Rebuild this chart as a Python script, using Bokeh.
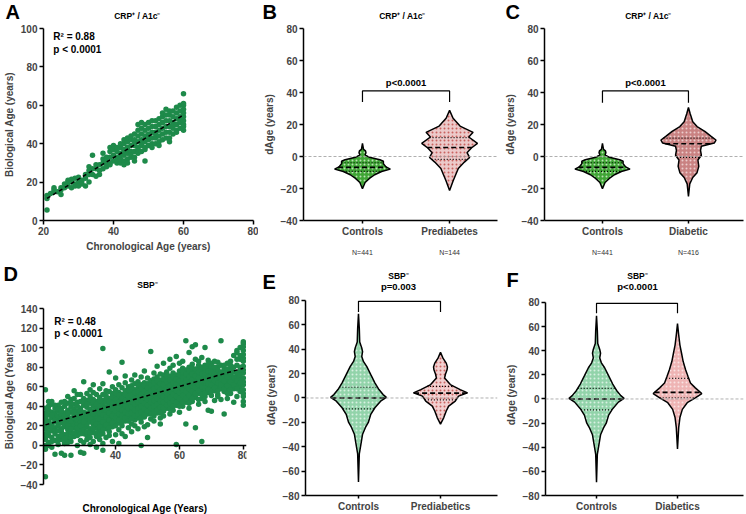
import numpy as np
from bokeh.plotting import figure
from bokeh.models import Label, Span, FixedTicker, LinearAxis, Range1d
from bokeh.layouts import row, column
from bokeh.embed import file_html
from bokeh.resources import INLINE

FONT = "Liberation Sans"
GREEN = "#1e8a4a"

# ---------------- Panel A data: CRP+ / A1c- scatter ----------------
a_ages = [21, 22, 23, 24, 25, 26, 27, 28, 29, 30, 31, 32, 33, 34, 35, 36, 37, 38, 39, 40,
          41, 42, 43, 44, 45, 46, 47, 48, 49, 50, 51, 52, 53, 54, 55, 56, 57, 58, 59, 60]
a_bio = [
    [13, 5.5, 11.5], [14], [15, 17, 16], [15], [13.5, 16, 17], [17, 19], [18, 21, 20],
    [17, 20, 21.5], [19, 22, 18], [20, 22.5, 18], [21, 19], [22, 18, 24], [20, 24, 26, 28],
    [24, 27, 34], [23, 27, 29], [26, 29, 24], [27, 30, 35, 32], [28, 31, 33, 30],
    [30, 33, 36, 38, 29], [31, 34, 37, 39], [30, 33, 36, 38, 31.5], [30, 32, 35, 38, 40, 34],
    [31, 34, 37, 40, 42, 29, 36], [32, 35, 38, 41, 43, 30, 37], [33, 36, 39, 42, 44, 34],
    [33, 36, 39, 42, 45, 31, 41], [35, 38, 41, 44, 47, 37, 50], [36, 39, 42, 45, 48, 40, 51],
    [31, 38, 41, 44, 47, 50, 37], [39, 42, 45, 48, 51, 43], [40, 43, 46, 49, 52, 38],
    [40, 43, 46, 49, 52, 45], [41, 44, 47, 50, 53, 39], [42, 45, 48, 51, 54, 56],
    [43, 46, 49, 52, 55, 58], [43, 46, 49, 52, 55, 57, 41], [45, 48, 51, 54, 57, 50],
    [47, 50, 53, 56, 59, 46], [48, 51, 54, 57, 60, 52], [47, 50, 52, 54, 56, 58, 60, 61, 66, 49],
]
a_fit = [1.115, -11.92]      # slope, intercept
a_fit_range = [21, 60]

# ---------------- Panel D data: SBP- scatter ----------------
d_ages = list(range(18, 81))
d_bio = [
    [-32, -4, 0, 6, 12, 17, 22, 26, 30, 33, 57, 20], [3, 10, 19, 25, 31, 36, 40, 14],
    [-2, 8, 15, 22, 28, 34, 42, 45], [5, 12, 18, 24, 29, 33, 38, -9], [1, 9, 20, 27, 35, 41, 30],
    [-8, 6, 14, 23, 31, 38, 44, 17], [2, 11, 19, 26, 33, 40, -10], [7, 16, 24, 29, 36, 43, 50, 12],
    [-10, 4, 13, 21, 28, 34, 39, 47], [9, 18, 25, 31, 37, 42, 56, 22], [0, 14, 22, 30, 35, 44, 52, 26],
    [-7, 5, 16, 24, 32, 38, 45, 28], [3, 12, 20, 27, 34, 41, 48, 65, -8], [10, 19, 26, 33, 39, 46, 53, 22],
    [1, 8, 17, 24, 31, 37, 43, 50, 57], [13, 21, 28, 35, 40, 47, 62, 4], [-2, 9, 18, 26, 32, 38, 45, 52, 30],
    [6, 15, 23, 30, 36, 43, 49, 58, 27], [-5, 12, 20, 28, 34, 41, 46, 99, 63, 2],
    [8, 17, 25, 32, 39, 44, 51, 56, 22], [14, 22, 30, 36, 42, 48, 55, 75, 10],
    [4, 19, 27, 34, 40, 46, 53, 60, 31], [11, 24, 31, 38, 44, 50, 57, 69, 37],
    [16, 23, 29, 35, 41, 47, 54, 62, 2], [20, 27, 33, 39, 45, 52, 59, 85, 12],
    [9, 25, 31, 37, 43, 49, 56, 64, 71], [18, 29, 35, 41, 47, 53, 60, 38],
    [22, 30, 36, 42, 48, 54, 61, 67, 14], [26, 33, 39, 45, 51, 57, 63, 72, 20],
    [17, 28, 35, 41, 46, 52, 58, 65, 44], [24, 31, 37, 43, 49, 55, 62, 70, 0],
    [29, 34, 40, 46, 52, 58, 64, 76, 19], [21, 32, 38, 44, 50, 56, 63, 69, 8],
    [27, 35, 41, 47, 53, 59, 66, 96, 45], [30, 37, 43, 49, 55, 61, 68, 74, 25],
    [33, 39, 45, 51, 57, 63, 70, 81, 48], [28, 36, 42, 48, 54, 60, 67, 73, 22],
    [35, 41, 47, 53, 59, 65, 72, 84, 30], [38, 44, 50, 56, 62, 68, 75, 58],
    [32, 40, 46, 52, 58, 64, 71, 79, 88], [36, 43, 49, 55, 61, 67, 74, 82, 46],
    [1, 41, 47, 53, 59, 65, 72, 91, 56], [34, 45, 51, 57, 63, 69, 76, 84, 60],
    [40, 48, 54, 60, 66, 72, 79, 86, 52], [22, 44, 52, 58, 64, 70, 77, 107, 62],
    [38, 47, 55, 61, 67, 73, 80, 95, 50], [45, 51, 58, 64, 70, 76, 83, 101, 68],
    [18, 49, 56, 62, 68, 74, 88, 103, 60], [42, 53, 59, 66, 72, 78, 86, 64],
    [4, 48, 57, 63, 70, 77, 90, 55], [50, 56, 62, 69, 75, 82, 100, 45],
    [36, 54, 60, 67, 73, 80, 87, 59], [51, 58, 65, 72, 78, 84, 35], [46, 56, 63, 70, 76, 86, 60],
    [52, 60, 68, 74, 80, 50], [58, 65, 72, 107, 47], [32, 55, 62, 70, 78], [48, 57, 66, 74, 84, 63],
    [53, 61, 69, 78, 86], [44, 58, 66, 92, 75], [50, 62, 70, 95, 97, 82], [60, 68, 76, 100, 88, 55],
    [41, 45, 50, 53, 57, 62, 65, 69, 74, 77, 81, 86, 89, 93, 97, 101, 104, 106],
]
# more SBP- subjects, ages 18..79, filling the dense core of the cloud
d_ages_extra = list(range(18, 80))
d_bio_extra = [
    [9, 28, 38], [0, 22, 45], [4, 18, 31], [15, 26, 41], [5, 15, 24, 37], [10, 27, 35],
    [7, 22, 30, 45], [3, 20, 33], [8, 17, 25, 43], [13, 28, 34, 48], [10, 18, 40], [12, 20, 35, 52],
    [16, 24, 30, 44], [6, 14, 30, 42], [13, 28, 34, 47], [17, 24, 32, 44, 54], [13, 22, 35, 42],
    [11, 19, 33, 40, 46], [16, 24, 31, 38, 52], [21, 29, 36, 48], [18, 26, 33, 39, 45],
    [23, 30, 37, 43, 50], [20, 28, 35, 41, 47, 53], [26, 32, 38, 44, 51], [24, 30, 36, 42, 48],
    [28, 34, 40, 46, 52], [25, 32, 38, 44, 50, 57], [27, 33, 39, 45, 51, 58], [30, 36, 42, 48, 54],
    [32, 38, 44, 49, 55, 62], [28, 34, 40, 46, 52, 58], [31, 37, 43, 49, 55, 61], [35, 41, 47, 53, 59],
    [32, 38, 44, 50, 56, 62], [34, 40, 46, 52, 58, 64], [36, 42, 48, 54, 60, 66], [33, 39, 45, 51, 57, 63],
    [38, 44, 50, 56, 62, 68], [41, 47, 53, 59, 65, 71], [37, 43, 49, 55, 61, 67], [40, 46, 52, 58, 64, 70],
    [44, 50, 56, 62, 68], [40, 48, 54, 60, 66, 72], [44, 51, 57, 63, 69, 75], [48, 55, 61, 67, 73],
    [43, 51, 58, 64, 70, 76], [48, 55, 61, 67, 73, 79], [53, 59, 65, 71, 78], [47, 56, 62, 69, 75, 82],
    [52, 60, 66, 73, 80], [53, 59, 66, 72, 79], [57, 63, 70, 76, 83], [55, 62, 68, 75, 81],
    [59, 66, 73, 80], [56, 64, 71, 77, 85], [62, 68, 75, 82], [58, 66, 74, 82], [53, 61, 70, 78],
    [57, 65, 73, 82], [62, 70, 80], [58, 66, 74, 88], [64, 72, 80, 92],
]
d_fit = [0.935, 4.16]
d_fit_range = [18, 80]

# ---------------- Violin outlines (dAge level, half width) ----------------
ctrl1_y = [8.2, 4.5, 3.5, 2.3, 1.0, -0.5, -2.0, -3.0, -4.5, -6.5, -7.9, -9.4, -11.4, -13.7, -16.3, -20.2]
ctrl1_w = [0.0, 0.012, 0.035, 0.04, 0.03, 0.08, 0.2, 0.24, 0.24, 0.27, 0.32, 0.22, 0.14, 0.08, 0.03, 0.0]
ctrl1_stats = [-9.3, -6.8, -3.9]   # q1, median, q3

pre1_y = [28.8, 23.9, 19.0, 15.1, 12.2, 8.2, 5.3, 2.4, -0.6, -3.5, -7.5, -11.4, -15.3, -21.2]
pre1_w = [0.0, 0.04, 0.12, 0.27, 0.22, 0.32, 0.25, 0.2, 0.23, 0.17, 0.1, 0.07, 0.04, 0.0]
pre1_stats = [-1.8, 5.6, 11.8]

dia1_y = [30.6, 26.7, 21.7, 18.7, 15.7, 12.7, 10.3, 8.4, 6.4, 3.8, 0.8, -2.2, -6.2, -10.1, -13.1, -17.1, -25.0]
dia1_w = [0.0, 0.02, 0.05, 0.1, 0.19, 0.26, 0.32, 0.3, 0.15, 0.14, 0.15, 0.11, 0.12, 0.1, 0.05, 0.015, 0.0]
dia1_stats = [-0.5, 8.0, 11.5]

ctrl2_y = [69, 57, 46, 41, 38, 34, 30, 25.9, 19.1, 12.4, 6.9, 2.8, 0.5, -2.6, -8, -13.4, -20.1, -24.2, -29.7, -37.8, -45.9, -69]
ctrl2_w = [0, 0.01, 0.015, 0.04, 0.05, 0.04, 0.06, 0.1, 0.15, 0.2, 0.25, 0.3, 0.34, 0.27, 0.2, 0.15, 0.12, 0.085, 0.05, 0.03, 0.01, 0]
ctrl2_stats = [-9.0, 0.0, 8.8]

pre2_y = [37.5, 32.7, 28.6, 25.5, 23.1, 19.5, 16.4, 11, 6.9, 4.2, 1.5, -2.6, -6.7, -10.7, -16.1, -21.5]
pre2_w = [0, 0.03, 0.07, 0.085, 0.08, 0.06, 0.05, 0.12, 0.24, 0.33, 0.22, 0.18, 0.1, 0.07, 0.04, 0]
pre2_stats = [-1.5, 4.0, 9.5]

dia2_y = [62.5, 52.9, 44.7, 37.9, 31, 24.2, 18.7, 13.3, 9.2, 4.5, 1, -3.1, -8.6, -15.4, -23.6, -41.4]
dia2_w = [0, 0.015, 0.03, 0.05, 0.07, 0.1, 0.13, 0.16, 0.22, 0.3, 0.22, 0.12, 0.06, 0.03, 0.015, 0]
dia2_stats = [1.0, 5.5, 17.0]

groups_b = ["Controls", "Prediabetes"]
groups_c = ["Controls", "Diabetic"]
groups_e = ["Controls", "Prediabetics"]
groups_f = ["Controls", "Diabetics"]
n_b = ["N=441", "N=144"]
n_c = ["N=441", "N=416"]
panel_letters = ["A", "B", "C", "D", "E", "F"]
panel_titles = ["CRP⁺ / A1c⁻", "CRP⁺ / A1c⁻", "CRP⁺ / A1c⁻", "SBP⁻", "SBP⁻", "SBP⁻"]
p_texts = ["p<0.0001", "p<0.0001", "p=0.003", "p<0.0001"]


def make_fig(w, h, xr, yr, bl, br, bt, bb):
    p = figure(width=w, height=h, x_range=Range1d(*xr), y_range=Range1d(*yr),
               output_backend="svg", toolbar_location=None,
               min_border_left=bl, min_border_right=br, min_border_top=bt, min_border_bottom=bb)
    p.xgrid.visible = False
    p.ygrid.visible = False
    p.outline_line_color = None
    p.title.visible = False
    return p


def make_strip(w, h, xr, yr):
    s = figure(width=w, height=h, x_range=Range1d(*xr), y_range=Range1d(*yr),
               output_backend="svg", toolbar_location=None, x_axis_type=None, y_axis_type=None,
               min_border=0)
    s.xgrid.visible = False
    s.ygrid.visible = False
    s.outline_line_color = None
    s.title.visible = False
    return s


def style_axis(ax):
    ax.axis_line_width = 1.5
    ax.axis_line_color = "black"
    ax.major_tick_line_width = 1.5
    ax.major_tick_out = 4
    ax.major_tick_in = 0
    ax.minor_tick_line_color = None
    ax.major_label_text_font = FONT
    ax.major_label_text_font_style = "bold"
    ax.major_label_text_font_size = "10px"
    ax.major_label_standoff = 2
    ax.axis_label_text_font = FONT
    ax.axis_label_text_font_style = "bold"
    ax.axis_label_text_font_size = "10px"
    ax.axis_label_standoff = 3


def lab(p, x, y, text, size, align="left", baseline="middle", style="bold", color="black"):
    p.add_layout(Label(x=x, y=y, text=text, text_font=FONT,
                       text_font_size=size, text_font_style=style, text_align=align,
                       text_baseline=baseline, text_color=color))


def violin(p, center, ys, ws, stats, fill, hatch):
    ys = np.array(ys, dtype=float)
    ws = np.array(ws, dtype=float)
    xs = np.concatenate([center + ws, (center - ws)[::-1]])
    yy = np.concatenate([ys, ys[::-1]])
    p.patch(xs, yy, fill_color=fill, line_color="black", line_width=1.5,
            hatch_pattern=".", hatch_color=hatch, hatch_alpha=0.8, hatch_scale=4, hatch_weight=1.3)
    order = np.argsort(ys)
    for k, s in enumerate(stats):
        hw = np.interp(s, ys[order], ws[order])
        dash = "5 3" if k == 1 else "1 2"
        lw = 1.6 if k == 1 else 1.2
        p.line([center - hw, center + hw], [s, s], line_color="black", line_width=lw, line_dash=dash)


def violin_axes(p, groups, ylabel, yticks):
    for ax in p.axis:
        style_axis(ax)
    p.xaxis.ticker = FixedTicker(ticks=[1, 2])
    p.xaxis.major_label_overrides = {1: groups[0], 2: groups[1]}
    p.xaxis.major_tick_out = 3
    p.yaxis.ticker = FixedTicker(ticks=yticks)
    p.yaxis.bounds = (min(yticks), max(yticks))
    p.yaxis.axis_label = ylabel
    p.add_layout(Span(location=0, dimension="width", line_color="#9a9a9a", line_dash="3 2", line_width=0.8))


def n_axis(p, labels):
    nax = LinearAxis(ticker=FixedTicker(ticks=[1, 2]), major_label_overrides={1: labels[0], 2: labels[1]})
    nax.axis_line_color = None
    nax.major_tick_line_color = None
    nax.minor_tick_line_color = None
    nax.major_label_text_font = FONT
    nax.major_label_text_font_size = "7px"
    nax.major_label_text_color = "#333333"
    nax.major_label_standoff = 3
    p.add_layout(nax, "below")


def bracket(p, y_top, y_left, y_right):
    p.line([1, 1, 2, 2], [y_left, y_top, y_top, y_right], line_color="black", line_width=1.2)


# ---------------- Header strips (panel letters, titles, p-values) ----------------
h1 = make_strip(746, 22, (0, 746), (0, 22))
for letter, x in zip(panel_letters[:3], [5, 262, 505]):
    lab(h1, x, 11, letter, "20px")
for title, x in zip(panel_titles[:3], [137, 402, 648]):
    lab(h1, x, 7, title, "8.5px", align="center")

h2 = make_strip(746, 34, (0, 746), (0, 34))
for letter, x, y in zip(panel_letters[3:], [3, 262, 506], [19, 11, 13]):
    lab(h2, x, y, letter, "20px")
for title, x, y in zip(panel_titles[3:], [147, 398, 637], [8, 17, 17]):
    lab(h2, x, y, title, "8.5px", align="center")
lab(h2, 398, 6, p_texts[2], "9.5px", align="center")
lab(h2, 637, 6, p_texts[3], "9.5px", align="center")

# ---------------- Panel A ----------------
pA = make_fig(258, 236, (20, 80), (0, 100), 42, 5, 6, 30)
for ax in pA.axis:
    style_axis(ax)
pA.xaxis.ticker = FixedTicker(ticks=[20, 40, 60, 80])
pA.yaxis.ticker = FixedTicker(ticks=[0, 20, 40, 60, 80, 100])
pA.xaxis.axis_label = "Chronological Age (years)"
pA.yaxis.axis_label = "Biological Age (years)"
ax_ = [a for a, ys in zip(a_ages, a_bio) for _ in ys]
ay_ = [y for ys in a_bio for y in ys]
pA.scatter(ax_, ay_, size=5.5, fill_color=GREEN, line_color=None)
fx = np.array(a_fit_range, dtype=float)
pA.line(fx, a_fit[0] * fx + a_fit[1], line_color="black", line_width=1.5, line_dash="4 3")
lab(pA, 22.8, 98.5, "R² = 0.88", "10px", baseline="top")
lab(pA, 22.8, 92, "p < 0.0001", "10px", baseline="top")

# ---------------- Panel B ----------------
pB = make_fig(242, 236, (0.323, 2.55), (-40, 80), 45, 3, 6, 30)
violin_axes(pB, groups_b, "dAge (years)", [-40, -20, 0, 20, 40, 60, 80])
n_axis(pB, n_b)
violin(pB, 1, ctrl1_y, ctrl1_w, ctrl1_stats, "#3fa535", "#d8f0d0")
violin(pB, 2, pre1_y, pre1_w, pre1_stats, "#eccaca", "#c24a46")
bracket(pB, 41, 34, 34)
lab(pB, 1.5, 46, p_texts[0], "9.5px", align="center")

# ---------------- Panel C ----------------
pC = make_fig(246, 236, (0.326, 2.64), (-40, 80), 44, 3, 6, 30)
violin_axes(pC, groups_c, "dAge (years)", [-40, -20, 0, 20, 40, 60, 80])
n_axis(pC, n_c)
violin(pC, 1, ctrl1_y, ctrl1_w, ctrl1_stats, "#3fa535", "#d8f0d0")
violin(pC, 2, dia1_y, dia1_w, dia1_stats, "#c98282", "#f4e0e0")
bracket(pC, 41, 33.6, 33.6)
lab(pC, 1.5, 46, p_texts[1], "9.5px", align="center")

# ---------------- Panel D ----------------
pD = make_fig(258, 209, (17.4, 81), (-40, 140), 41, 12, 16, 17)
for ax in pD.axis:
    style_axis(ax)
pD.xaxis.ticker = FixedTicker(ticks=[40, 60, 80])
pD.xaxis.fixed_location = 0
pD.yaxis.ticker = FixedTicker(ticks=list(range(-40, 141, 20)))
pD.yaxis.axis_label = "Biological Age (Years)"
dx_ = [a for a, ys in zip(d_ages, d_bio) for _ in ys] + [a for a, ys in zip(d_ages_extra, d_bio_extra) for _ in ys]
dy_ = [y for ys in d_bio for y in ys] + [y for ys in d_bio_extra for y in ys]
pD.scatter(dx_, dy_, size=5.5, fill_color=GREEN, line_color=None)
fx = np.array(d_fit_range, dtype=float)
pD.line(fx, d_fit[0] * fx + d_fit[1], line_color="black", line_width=1.5, line_dash="4 3")
lab(pD, 20.8, 132, "R² = 0.48", "10px", baseline="top")
lab(pD, 20.8, 120, "p < 0.0001", "10px", baseline="top")
fD = make_strip(258, 13, (0, 1), (0, 1))
lab(fD, 0.5, 0.5, "Chronological Age (Years)", "10px", align="center")

# ---------------- Panel E ----------------
pE = make_fig(242, 222, (0.354, 2.695), (-80, 84.9), 47, 3, 2, 17)
violin_axes(pE, groups_e, "dAge (years)", list(range(-80, 81, 20)))
violin(pE, 1, ctrl2_y, ctrl2_w, ctrl2_stats, "#92d3aa", "#eaf8ef")
violin(pE, 2, pre2_y, pre2_w, pre2_stats, "#f2d0d0", "#c24a46")
bracket(pE, 79.3, 70.5, 70.5)

# ---------------- Panel F ----------------
pF = make_fig(246, 222, (0.37, 2.815), (-80, 86.6), 45, 3, 2, 17)
violin_axes(pF, groups_f, "dAge (years)", list(range(-80, 81, 20)))
violin(pF, 1, ctrl2_y, ctrl2_w, ctrl2_stats, "#92d3aa", "#eaf8ef")
violin(pF, 2, dia2_y, dia2_w, dia2_stats, "#eeb4b4", "#fbeeee")
bracket(pF, 79.3, 71, 71)

layout = column(
    h1,
    row(pA, pB, pC),
    h2,
    row(column(pD, fD), pE, pF),
)
open("out.html", "w").write(file_html(layout, INLINE))
